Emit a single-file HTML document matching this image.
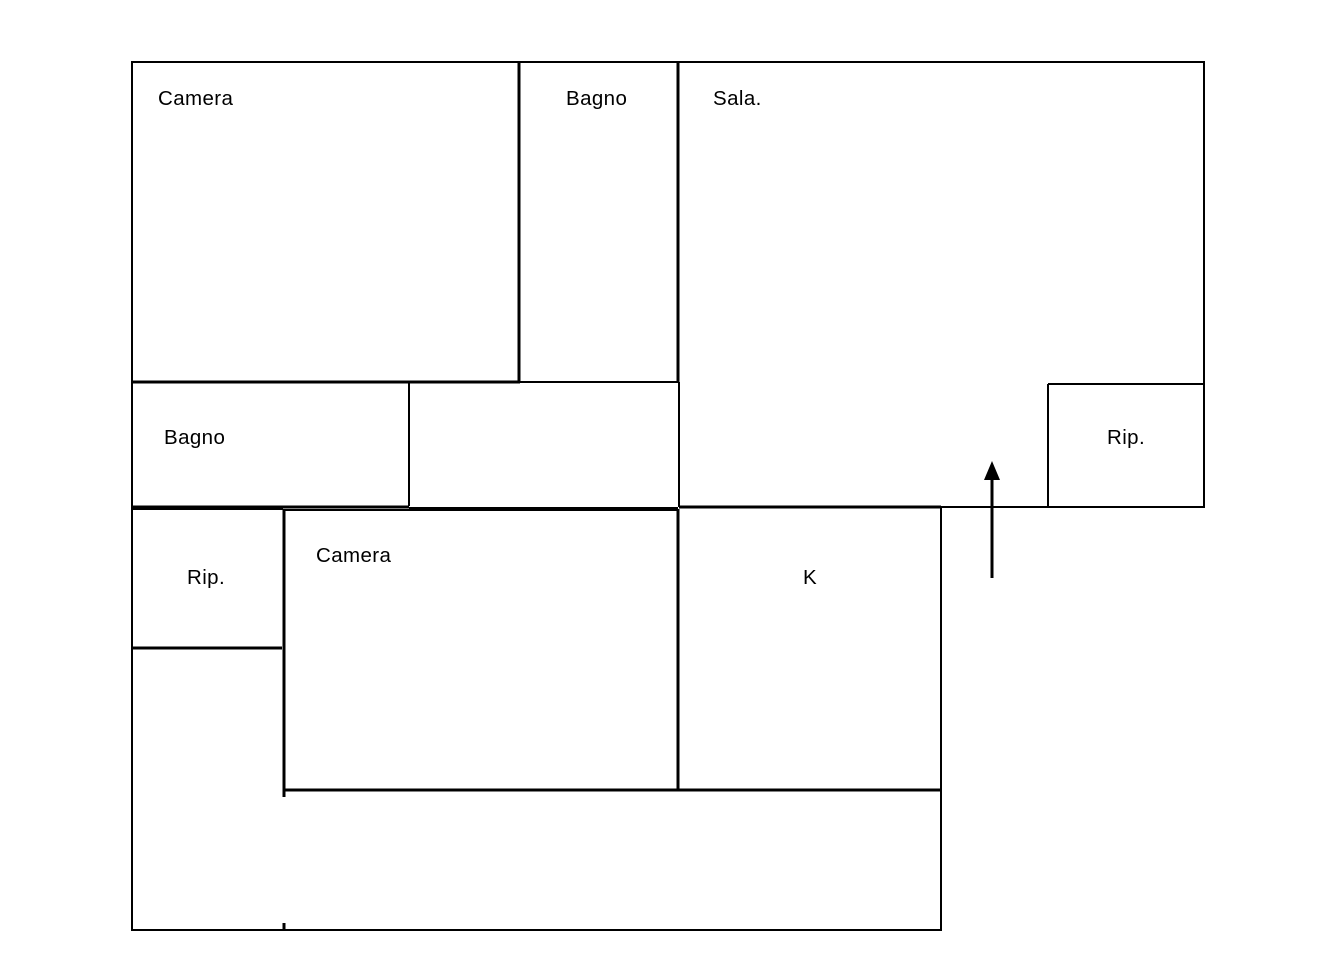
<!DOCTYPE html>
<html><head><meta charset="utf-8"><style>
html,body{margin:0;padding:0;background:#fff;width:1324px;height:968px;overflow:hidden}
svg{display:block}
text{font-family:"Liberation Sans",Arial,sans-serif;font-size:20.5px;letter-spacing:0.4px;fill:#000}
</style></head><body>
<svg width="1324" height="968" viewBox="0 0 1324 968" xmlns="http://www.w3.org/2000/svg">
<g stroke="#000" stroke-linecap="butt" fill="none">
<!-- outer -->
<line x1="131" y1="62" x2="1205" y2="62" stroke-width="2"/>
<line x1="1204" y1="62" x2="1204" y2="508" stroke-width="2"/>
<line x1="132" y1="61" x2="132" y2="931" stroke-width="2"/>
<line x1="131" y1="930" x2="942" y2="930" stroke-width="2"/>
<line x1="941" y1="508" x2="941" y2="931" stroke-width="2"/>
<!-- top dividers -->
<line x1="519" y1="62" x2="519" y2="381" stroke-width="3"/>
<line x1="678" y1="62" x2="678" y2="382" stroke-width="3"/>
<line x1="679" y1="382" x2="679" y2="507" stroke-width="2"/>
<line x1="132" y1="382" x2="520" y2="382" stroke-width="3"/>
<line x1="519" y1="382" x2="678" y2="382" stroke-width="2"/>
<!-- bagno -->
<line x1="409" y1="383" x2="409" y2="506" stroke-width="2"/>
<line x1="132" y1="507" x2="409" y2="507" stroke-width="3"/>
<line x1="409" y1="508" x2="678" y2="508" stroke-width="2"/>
<!-- sala bottom -->
<line x1="679" y1="507" x2="941" y2="507" stroke-width="3"/>
<line x1="941" y1="507" x2="1048" y2="507" stroke-width="2"/>
<!-- rip right -->
<line x1="1048" y1="384" x2="1204" y2="384" stroke-width="2"/>
<line x1="1048" y1="384" x2="1048" y2="507" stroke-width="2"/>
<line x1="1048" y1="507" x2="1204" y2="507" stroke-width="2"/>
<!-- lower -->
<line x1="132" y1="509" x2="283" y2="509" stroke-width="2"/>
<line x1="283" y1="510" x2="678" y2="510" stroke-width="2"/>
<line x1="284" y1="509" x2="284" y2="797" stroke-width="3"/>
<line x1="284" y1="923" x2="284" y2="930" stroke-width="3"/>
<line x1="132" y1="648" x2="282" y2="648" stroke-width="3"/>
<line x1="678" y1="509" x2="678" y2="789" stroke-width="3"/>
<line x1="284" y1="790" x2="941" y2="790" stroke-width="3"/>
<!-- arrow -->
<line x1="992" y1="578" x2="992" y2="478" stroke-width="3"/>
</g>
<polygon points="992,461 984,480 1000,480" fill="#000"/>
<text x="158" y="105">Camera</text>
<text x="566" y="105">Bagno</text>
<text x="713" y="105">Sala.</text>
<text x="164" y="444">Bagno</text>
<text x="1107" y="444">Rip.</text>
<text x="187" y="584">Rip.</text>
<text x="316" y="562">Camera</text>
<text x="803" y="584">K</text>
</svg>
</body></html>
